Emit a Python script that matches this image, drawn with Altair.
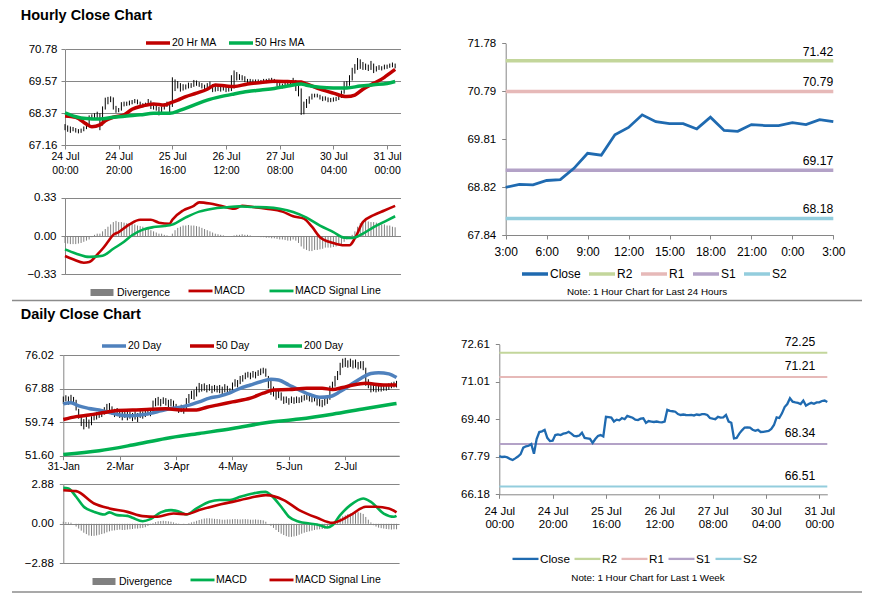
import json
import altair as alt
import pandas as pd

FONT = "Liberation Sans"
AXC = "#868686"
RED = "#c00000"
GREEN = "#00b050"
BLUE = "#4f81bd"
CLOSE = "#1f6ab0"
DIVC = "#808080"
PIV_COLORS = ["#c3d69b", "#e6b9b8", "#b3a2c7", "#93cddd"]
W, H = 857, 585

# ---------------- text ----------------
title_hourly = "Hourly Close Chart"
title_daily = "Daily Close Chart"
note_24h = "Note: 1 Hour Chart for Last 24 Hours"
note_week = "Note: 1 Hour Chart for Last 1 Week"

# ---------------- hourly data (last week, one value per hour) ----------------
hour_close = [67.82, 67.78, 67.79, 67.76, 67.70, 67.65, 67.72, 67.80, 67.90, 68.18,
              68.24, 68.26, 68.33, 67.92, 68.55, 68.85, 68.88, 68.94, 68.60, 68.46,
              68.48, 68.72, 68.75, 68.72, 68.78, 68.80, 68.86, 68.78, 68.68, 68.67,
              68.70, 68.82, 68.60, 68.58, 68.56, 68.38, 68.55, 68.68, 68.72, 68.66,
              69.50, 69.49, 69.47, 69.30, 69.38, 69.35, 69.45, 69.40, 69.54, 69.50,
              69.46, 69.38, 69.36, 69.42, 69.44, 69.24, 69.32, 69.30, 69.28, 69.30,
              69.27, 69.26, 69.30, 69.80, 69.76, 69.74, 69.72, 69.62, 69.58, 69.60,
              69.58, 69.57, 69.58, 69.56, 69.60, 69.58, 69.62, 69.62, 69.58, 69.45,
              69.42, 69.40, 69.50, 69.47, 69.48, 69.58, 69.30, 69.25, 68.58, 68.60,
              68.78, 68.92, 69.04, 69.05, 69.04, 68.95, 68.90, 68.94, 68.85, 68.86,
              68.88, 68.90, 68.98, 69.15, 69.48, 69.45, 69.65, 69.92, 70.05, 70.30,
              70.15, 70.12, 70.10, 70.05, 70.20, 69.98, 70.05, 70.10, 70.06, 70.12,
              70.12, 70.18, 70.20, 70.14]
hour_low = [67.72, 67.66, 67.62, 67.68, 67.63, 67.60, 67.62, 67.68, 67.76, 67.86,
            68.10, 68.12, 68.18, 67.72, 67.90, 68.50, 68.70, 68.78, 68.50, 68.38,
            68.40, 68.46, 68.62, 68.64, 68.66, 68.70, 68.74, 68.70, 68.60, 68.58,
            68.60, 68.66, 68.52, 68.50, 68.46, 68.28, 68.36, 68.50, 68.60, 68.30,
            68.60, 69.20, 69.30, 69.18, 69.22, 69.26, 69.30, 69.32, 69.36, 69.40,
            69.36, 69.30, 69.28, 69.30, 69.34, 69.16, 69.18, 69.20, 69.18, 69.22,
            69.16, 69.18, 69.20, 69.30, 69.60, 69.62, 69.60, 69.54, 69.50, 69.52,
            69.50, 69.50, 69.50, 69.48, 69.50, 69.50, 69.52, 69.52, 69.50, 69.38,
            69.34, 69.30, 69.36, 69.38, 69.36, 69.40, 69.20, 69.00, 68.30, 68.32,
            68.56, 68.72, 68.88, 68.96, 68.96, 68.88, 68.82, 68.84, 68.78, 68.78,
            68.80, 68.82, 68.86, 68.94, 69.10, 69.34, 69.40, 69.60, 69.86, 70.00,
            70.04, 70.00, 70.00, 69.96, 70.00, 69.88, 69.94, 70.00, 69.98, 70.02,
            70.04, 70.08, 70.10, 70.06]
hour_high = [67.95, 67.90, 67.86, 67.84, 67.80, 67.76, 67.78, 67.86, 68.02, 68.28,
             68.32, 68.36, 68.42, 68.36, 68.62, 68.95, 68.98, 69.00, 68.96, 68.64,
             68.56, 68.78, 68.80, 68.80, 68.84, 68.86, 68.90, 68.88, 68.80, 68.74,
             68.76, 68.90, 68.84, 68.66, 68.64, 68.60, 68.62, 68.74, 68.80, 68.76,
             69.72, 69.64, 69.58, 69.50, 69.46, 69.45, 69.52, 69.50, 69.62, 69.60,
             69.54, 69.50, 69.44, 69.50, 69.56, 69.46, 69.38, 69.38, 69.36, 69.38,
             69.36, 69.34, 69.80, 69.98, 69.92, 69.84, 69.80, 69.76, 69.66, 69.66,
             69.64, 69.64, 69.64, 69.62, 69.66, 69.66, 69.68, 69.70, 69.66, 69.62,
             69.50, 69.48, 69.58, 69.56, 69.60, 69.70, 69.62, 69.40, 69.30, 68.80,
             68.90, 69.00, 69.10, 69.10, 69.10, 69.06, 69.00, 69.00, 68.96, 68.94,
             68.96, 68.98, 69.06, 69.22, 69.56, 69.58, 69.80, 70.08, 70.22, 70.45,
             70.40, 70.30, 70.24, 70.20, 70.34, 70.24, 70.14, 70.18, 70.14, 70.20,
             70.20, 70.24, 70.28, 70.24]
hour_ticks = [0, 20, 40, 60, 80, 100, 120]
hour_tick_labels = [["24 Jul", "00:00"], ["24 Jul", "20:00"], ["25 Jul", "16:00"],
                    ["26 Jul", "12:00"], ["27 Jul", "08:00"], ["30 Jul", "04:00"],
                    ["31 Jul", "00:00"]]
hour_yticks = [67.16, 68.37, 69.57, 70.78]

ma20_x = [0, 4, 8, 10, 13, 15, 18, 22, 25, 29, 33, 37, 39, 42, 45, 49, 53, 56, 60, 63,
          68, 73, 78, 83, 88, 90, 95, 100, 105, 108, 111, 115, 119, 121, 123]
ma20_v = [68.26, 68.21, 67.95, 67.85, 67.92, 68.08, 68.21, 68.30, 68.51, 68.64, 68.71,
          68.67, 68.74, 68.86, 68.99, 69.12, 69.27, 69.43, 69.39, 69.37, 69.47, 69.52,
          69.57, 69.56, 69.54, 69.47, 69.27, 69.12, 68.99, 69.05, 69.27, 69.49, 69.72,
          69.87, 70.02]
ma50_x = [0, 4, 8, 13, 18, 23, 28, 33, 39, 43, 48, 53, 58, 63, 68, 73, 78, 83, 88, 90,
          95, 100, 105, 110, 115, 120, 123]
ma50_v = [68.38, 68.23, 68.16, 68.14, 68.21, 68.26, 68.30, 68.36, 68.36, 68.48, 68.67,
          68.86, 68.99, 69.09, 69.18, 69.24, 69.30, 69.39, 69.47, 69.42, 69.34, 69.32,
          69.32, 69.39, 69.44, 69.49, 69.56]

hmacd_x = [0, 3, 7, 9, 12, 14, 16, 18, 20, 24, 28, 32, 35, 39, 40, 44, 48, 50, 54, 58,
           63, 66, 70, 75, 81, 85, 89, 92, 95, 100, 104, 106, 108, 111, 115, 119, 123]
hmacd_v = [-0.172, -0.20, -0.23, -0.224, -0.16, -0.11, -0.05, 0.01, 0.034, 0.10, 0.14,
           0.14, 0.115, 0.106, 0.14, 0.22, 0.26, 0.29, 0.28, 0.26, 0.235, 0.26, 0.25,
           0.235, 0.21, 0.17, 0.15, 0.08, -0.01, -0.06, -0.08, -0.08, -0.02, 0.12, 0.18,
           0.22, 0.26]
hsig_x = [0, 4, 9, 14, 18, 22, 25, 29, 33, 37, 40, 45, 50, 55, 60, 65, 70, 75, 80, 85,
          90, 95, 100, 104, 107, 111, 115, 120, 123]
hsig_v = [-0.115, -0.15, -0.18, -0.17, -0.11, -0.05, 0.006, 0.055, 0.077, 0.086, 0.098,
          0.16, 0.21, 0.235, 0.247, 0.255, 0.25, 0.247, 0.235, 0.207, 0.158, 0.09, 0.034,
          -0.014, -0.017, 0.02, 0.077, 0.135, 0.17]
hdiv = [-0.06, -0.065, -0.07, -0.07, -0.07, -0.065, -0.06, -0.05, -0.04, -0.03,
        -0.01, 0.01, 0.02, 0.02, 0.04, 0.06, 0.08, 0.10, 0.12, 0.13,
        0.12, 0.12, 0.115, 0.11, 0.11, 0.105, 0.10, 0.09, 0.085, 0.08,
        0.07, 0.06, 0.05, 0.04, 0.03, 0.02, 0.02, 0.01, 0.005, 0.0,
        0.02, 0.05, 0.07, 0.08, 0.09, 0.09, 0.095, 0.09, 0.09, 0.085,
        0.08, 0.07, 0.06, 0.05, 0.04, 0.03, 0.02, 0.015, 0.01, 0.005,
        0.0, 0.0, -0.005, 0.005, 0.01, 0.01, 0.015, 0.01, 0.01, 0.005,
        0.0, 0.0, -0.005, -0.01, -0.01, -0.015, -0.015, -0.02, -0.02, -0.025,
        -0.03, -0.03, -0.035, -0.04, -0.04, -0.03, -0.04, -0.06, -0.09, -0.11,
        -0.12, -0.13, -0.13, -0.12, -0.12, -0.115, -0.11, -0.10, -0.10, -0.10,
        -0.095, -0.09, -0.08, -0.07, -0.05, -0.03, -0.01, 0.01, 0.04, 0.08,
        0.11, 0.13, 0.13, 0.125, 0.12, 0.12, 0.115, 0.11, 0.10, 0.10,
        0.09, 0.09, 0.08, 0.075]
hmacd_yticks = [-0.33, 0.0, 0.33]

# ---------------- last 24 hours ----------------
day_close = [68.82, 68.88, 68.87, 68.96, 68.98, 69.21, 69.52, 69.48, 69.90, 70.05,
             70.31, 70.17, 70.13, 70.13, 70.02, 70.26, 69.99, 69.97, 70.11, 70.09,
             70.09, 70.15, 70.11, 70.21, 70.17]
day_ticks = [0, 3, 6, 9, 12, 15, 18, 21, 24]
day_tick_labels = ["3:00", "6:00", "9:00", "12:00", "15:00", "18:00", "21:00", "0:00", "3:00"]
day_yticks = [67.84, 68.82, 69.81, 70.79, 71.78]
pivot_names = ["R2", "R1", "S1", "S2"]
pivot_24h = [71.42, 70.79, 69.17, 68.18]
pivot_week = [72.25, 71.21, 68.34, 66.51]
week_yticks = [66.18, 67.79, 69.40, 71.01, 72.61]

# ---------------- daily data ----------------
d_low = [64.2, 64.8, 64.0, 64.3, 64.0, 62.6, 60.6, 58.8, 58.0, 58.6,
         58.2, 59.0, 60.2, 60.4, 60.8, 61.0, 61.6, 62.4, 62.2, 61.6,
         61.0, 61.2, 60.8, 60.2, 60.8, 60.2, 60.6, 60.0, 60.4, 59.8,
         60.8, 60.6, 61.0, 61.4, 61.2, 62.4, 63.6, 63.8, 63.6, 64.2,
         63.8, 63.4, 63.6, 63.0, 62.6, 62.0, 62.2, 61.8, 62.6, 64.4,
         65.4, 65.2, 66.0, 67.0, 67.2, 67.4, 67.0, 67.4, 66.8, 67.2,
         67.0, 66.8, 66.6, 67.0, 67.0, 66.6, 67.2, 68.4, 68.2, 69.0,
         69.6, 70.2, 70.6, 70.2, 70.6, 70.4, 71.0, 71.2, 71.6, 70.8,
         68.0, 66.4, 66.0, 65.2, 65.6, 65.0, 64.2, 64.4, 64.0, 64.4,
         64.2, 64.4, 64.4, 64.6, 65.0, 65.2, 64.8, 64.6, 64.8, 63.8,
         63.6, 63.4, 63.8, 64.2, 65.2, 67.4, 68.4, 70.0, 71.2, 73.0,
         73.2, 73.0, 73.2, 72.8, 73.0, 72.6, 72.8, 72.4, 68.6, 68.0,
         67.0, 67.2, 67.0, 67.2, 67.2, 67.4, 67.4, 67.6, 68.0, 68.2,
         68.2]
d_high = [66.0, 66.3, 66.0, 66.4, 65.9, 65.2, 63.0, 61.0, 60.5, 61.0,
          60.4, 61.2, 62.0, 62.2, 62.4, 62.6, 63.4, 64.2, 64.4, 63.6,
          63.0, 63.2, 62.8, 62.4, 62.8, 62.4, 62.3, 62.0, 62.4, 62.0,
          62.6, 62.4, 62.6, 63.0, 63.0, 65.0, 65.6, 65.9, 65.4, 65.8,
          65.6, 65.2, 65.4, 65.0, 64.2, 63.6, 64.0, 63.6, 65.6, 66.6,
          67.4, 67.6, 68.4, 69.3, 69.0, 69.2, 68.8, 69.0, 68.6, 68.8,
          68.6, 68.8, 68.4, 69.0, 68.6, 68.0, 69.4, 70.2, 70.0, 71.0,
          71.2, 71.8, 72.0, 71.8, 72.2, 72.0, 72.4, 72.8, 73.0, 72.8,
          71.0, 70.2, 68.4, 67.6, 67.8, 67.0, 66.0, 66.0, 65.6, 66.0,
          65.8, 66.0, 65.8, 66.2, 66.4, 66.8, 66.4, 66.0, 66.2, 65.6,
          65.6, 65.2, 66.0, 65.8, 68.6, 69.6, 71.0, 72.2, 74.2, 75.2,
          75.4, 74.8, 75.2, 74.8, 75.0, 74.4, 74.6, 74.6, 73.0, 70.2,
          69.0, 69.2, 68.8, 69.0, 68.6, 69.0, 68.8, 69.2, 69.4, 69.6,
          69.8]
daily_ticks = [0, 22, 44, 66, 88, 110]
daily_tick_labels = ["31-Jan", "2-Mar", "3-Apr", "4-May", "5-Jun", "2-Jul"]
daily_yticks = [51.60, 59.74, 67.88, 76.02]

d20_x = [0, 3, 6, 10, 14, 18, 22, 26, 30, 34, 38, 42, 45, 49, 53, 57, 61, 65, 69, 73,
         77, 81, 84, 88, 92, 96, 100, 104, 108, 112, 116, 120, 123, 127, 130]
d20_v = [64.2, 64.5, 63.7, 63.1, 62.7, 62.1, 61.5, 61.3, 61.5, 61.9, 62.5, 63.1, 63.3,
         63.9, 64.7, 65.6, 66.1, 66.9, 68.0, 68.8, 69.6, 70.2, 70.0, 68.8, 67.6, 66.5,
         65.8, 66.0, 67.2, 68.8, 70.4, 71.6, 71.8, 71.5, 70.6]
d50_x = [0, 5, 10, 16, 21, 27, 34, 40, 47, 52, 56, 60, 66, 73, 78, 82, 88, 95, 101, 105,
         109, 113, 118, 125, 130]
d50_v = [60.4, 61.1, 61.5, 62.1, 62.6, 62.7, 62.9, 63.0, 62.7, 62.7, 63.4, 63.9, 64.7,
         65.6, 66.8, 67.6, 67.7, 68.0, 68.0, 67.7, 68.2, 68.8, 69.2, 68.8, 68.8]
d200_x = [0, 14, 27, 40, 53, 66, 79, 92, 105, 118, 130]
d200_v = [51.9, 52.8, 54.2, 55.8, 57.0, 58.2, 59.6, 60.5, 61.7, 63.1, 64.3]

dmacd_x = [0, 2, 5, 8, 12, 16, 18, 21, 25, 27, 31, 34, 38, 42, 46, 48, 52, 57, 61, 65,
           69, 74, 79, 81, 85, 88, 92, 96, 100, 103, 105, 108, 112, 117, 120, 125, 129, 130]
dmacd_v = [2.62, 2.58, 1.97, 1.24, 0.87, 0.68, 0.83, 0.63, 0.58, 0.44, 0.19, 0.34, 0.83,
           1.0, 0.83, 0.68, 1.12, 1.6, 1.73, 1.73, 1.97, 2.21, 2.33, 2.09, 1.24, 0.51,
           0.15, 0.02, -0.1, -0.27, -0.1, 0.63, 1.36, 1.85, 1.6, 0.75, 0.51, 0.58]
dsig_x = [0, 5, 12, 18, 25, 31, 36, 43, 48, 53, 60, 66, 73, 79, 86, 92, 99, 105, 112,
          118, 122, 127, 130]
dsig_v = [2.45, 2.38, 1.48, 1.12, 0.87, 0.56, 0.51, 0.75, 0.70, 1.0, 1.36, 1.6, 1.9,
          2.09, 1.73, 1.0, 0.44, 0.07, 0.63, 1.24, 1.24, 1.12, 0.83]
ddiv = [0.15, 0.12, 0.10, 0.08, 0.0, -0.2, -0.35, -0.5, -0.65, -0.75,
        -0.85, -0.88, -0.88, -0.85, -0.8, -0.75, -0.7, -0.62, -0.55, -0.5,
        -0.48, -0.45, -0.42, -0.45, -0.45, -0.42, -0.4, -0.38, -0.35, -0.35,
        -0.32, -0.3, -0.25, -0.15, -0.05, 0.05, 0.12, 0.18, 0.2, 0.22,
        0.2, 0.18, 0.15, 0.1, 0.05, 0.02, 0.0, -0.03, 0.0, 0.05,
        0.1, 0.15, 0.22, 0.28, 0.33, 0.38, 0.4, 0.4, 0.38, 0.36,
        0.35, 0.33, 0.3, 0.3, 0.32, 0.32, 0.33, 0.35, 0.33, 0.32,
        0.33, 0.34, 0.33, 0.3, 0.3, 0.32, 0.3, 0.28, 0.25, 0.15,
        0.0, -0.15, -0.3, -0.45, -0.6, -0.72, -0.82, -0.9, -0.95, -0.95,
        -0.92, -0.88, -0.8, -0.72, -0.65, -0.6, -0.55, -0.5, -0.45, -0.42,
        -0.4, -0.38, -0.36, -0.3, -0.15, 0.0, 0.15, 0.3, 0.45, 0.55,
        0.62, 0.7, 0.75, 0.8, 0.82, 0.85, 0.8, 0.72, 0.5, 0.3,
        0.1, -0.1, -0.2, -0.28, -0.32, -0.35, -0.38, -0.4, -0.42, -0.4,
        -0.4]
dmacd_yticks = [-2.88, 0.0, 2.88]


# ---------------- helpers ----------------
def scale(dom, rng):
    return alt.Scale(domain=dom, range=rng, nice=False, zero=False)


def y_axis(values, offset, grid, pad):
    return alt.Axis(orient="left", values=values, format=".2f", offset=offset, grid=grid,
                    gridColor=AXC, gridWidth=1, domainColor=AXC, domainWidth=1,
                    tickColor=AXC, tickSize=4, tickWidth=1, labelFont=FONT,
                    labelFontSize=11.5, labelColor="black", labelPadding=pad,
                    labelOverlap=False, title=None)


def x_axis(ticks, labels, offset, pad, size, lh=14):
    expr = f"{json.dumps(labels)}[indexof({json.dumps(ticks)}, datum.value)]"
    return alt.Axis(orient="bottom", values=ticks, labelExpr=expr, offset=offset, grid=False,
                    domainColor=AXC, domainWidth=1, tickColor=AXC, tickSize=4, tickWidth=1,
                    labelFont=FONT, labelFontSize=size, labelColor="black", labelPadding=pad,
                    labelLineHeight=lh, labelFlush=False, labelOverlap=False, title=None)


def legend(sym_x, center_y, sw=3.5, length=24, gap=10, size=10.5):
    # sym_x / center_y: page position of the first symbol and the row centre
    return alt.Legend(orient="none", legendX=sym_x - 11, legendY=center_y - 8 - length / 2,
                      direction="horizontal", title=None,
                      symbolType="stroke", symbolSize=length * length, symbolStrokeWidth=sw,
                      labelFont=FONT, labelFontSize=size, labelColor="black", labelOffset=0,
                      columnPadding=gap - 6, padding=0)


def series_df(items):
    rows = []
    for name, xs, vs in items:
        rows += [{"x": a, "v": b, "s": name} for a, b in zip(xs, vs)]
    return pd.DataFrame(rows)


def X(field, sc, axis=None):
    return alt.X(f"{field}:Q", scale=sc, axis=axis)


def Y(field, sc, axis=None):
    return alt.Y(f"{field}:Q", scale=sc, axis=axis)


# every layer below is a direct child of one top-level layer; layers of the same
# panel get identical scale definitions, so they line up exactly.
def price_panel(lo, hi, sx, sy, xax, yax, ma_items, ma_colors, leg):
    bars = pd.DataFrame({"i": list(range(len(lo))), "lo": lo, "hi": hi})
    b = alt.Chart(bars).mark_rule(color="black", strokeWidth=1).encode(
        x=X("i", sx, xax), y=Y("lo", sy, yax), y2="hi")
    names = [m[0] for m in ma_items]
    ln = alt.Chart(series_df(ma_items)).mark_line(strokeWidth=3.5, interpolate="monotone").encode(
        x=X("x", sx), y=Y("v", sy),
        color=alt.Color("s:N", scale=alt.Scale(domain=names, range=ma_colors), legend=leg))
    return [b, ln]


def macd_panel(div, sx, sy, yax, items, colors, leg_div, leg_lines):
    dv = pd.DataFrame({"i": list(range(len(div))), "v": div, "s": "Divergence"})
    d = alt.Chart(dv).mark_rule(strokeWidth=1).encode(
        x=X("i", sx), y=Y("v", sy, yax), y2=alt.datum(0),
        color=alt.Color("s:N", scale=alt.Scale(domain=["Divergence"], range=[DIVC]),
                        legend=leg_div))
    names = [m[0] for m in items]
    ln = alt.Chart(series_df(items)).mark_line(strokeWidth=2.6, interpolate="monotone").encode(
        x=X("x", sx), y=Y("v", sy),
        color=alt.Color("s:N", scale=alt.Scale(domain=names, range=colors), legend=leg_lines))
    return [d, ln]


def pivot_panel(close, sx, sy, xax, yax, levels, lw_close, lw_piv, leg, dx, dy):
    cd = pd.DataFrame({"h": list(range(len(close))), "v": close, "s": "Close"})
    pv = pd.DataFrame({"s": pivot_names, "level": levels,
                       "x0": 0, "x1": len(close) - 1})
    cs = lambda: alt.Scale(domain=["Close"] + pivot_names, range=[CLOSE] + PIV_COLORS)
    rules = alt.Chart(pv).mark_rule(strokeWidth=lw_piv).encode(
        x=X("x0", sx, xax), x2="x1", y=Y("level", sy, yax),
        color=alt.Color("s:N", scale=cs(), legend=None))
    line = alt.Chart(cd).mark_line(strokeWidth=lw_close).encode(
        x=X("h", sx), y=Y("v", sy),
        color=alt.Color("s:N", scale=cs(), legend=leg))
    txt = alt.Chart(pv).mark_text(align="right", baseline="alphabetic", dx=dx, dy=dy,
                                  font=FONT, fontSize=12.2, color="black").encode(
        x=X("x1", sx), y=Y("level", sy), text=alt.Text("level:Q", format=".2f"))
    return [rules, line, txt]


def text_layer(txt, x, y, size, weight="normal", align="left", baseline="alphabetic"):
    return alt.Chart(pd.DataFrame({"t": [txt]})).mark_text(
        font=FONT, fontSize=size, fontWeight=weight, align=align, baseline=baseline,
        color="black").encode(x=alt.value(x), y=alt.value(y), text="t:N")


def sep_layer(y):
    return alt.Chart(pd.DataFrame({"k": [0]})).mark_rule(color="#8c8c8c", strokeWidth=1.5).encode(
        x=alt.value(4), x2=alt.value(854), y=alt.value(y))


# ---------------- panels ----------------
sxA = scale([0, 125], [57, 392.5])
panel_a = price_panel(hour_low, hour_high, sxA, scale([67.16, 70.78], [137, 41.3]),
                      x_axis(hour_ticks, hour_tick_labels, 137 - H, 2, 10.5),
                      y_axis(hour_yticks, -57, True, 4),
                      [("20 Hr MA", ma20_x, ma20_v), ("50 Hrs MA", ma50_x, ma50_v)],
                      [RED, GREEN], legend(147, 41, gap=11))
panel_b = macd_panel(hdiv, sxA, scale([-0.33, 0.33], [266.3, 189.7]),
                     y_axis(hmacd_yticks, -57, True, 5),
                     [("MACD", hmacd_x, hmacd_v), ("MACD Signal Line", hsig_x, hsig_v)],
                     [RED, GREEN], legend(90, 289, sw=7, length=23),
                     legend(190, 289, sw=2.8, length=24, gap=24))
panel_c = pivot_panel(day_close, scale([0, 24], [497.7, 825.3]),
                      scale([67.84, 71.78], [227, 35.3]),
                      x_axis(day_ticks, day_tick_labels, 227 - H, 7, 12),
                      y_axis(day_yticks, -497.7, False, 6),
                      pivot_24h, 2.8, 3.5,
                      legend(523, 272, sw=3.5, length=26, gap=7, size=12), 0, -5)

sxD = scale([0, 131], [55.3, 391.1])
panel_d = price_panel(d_low, d_high, sxD, scale([51.60, 76.02], [447.7, 347.3]),
                      x_axis(daily_ticks, daily_tick_labels, 447.7 - H, 2, 10.5),
                      y_axis(daily_yticks, -55.3, True, 6),
                      [("20 Day", d20_x, d20_v), ("50 Day", d50_x, d50_v),
                       ("200 Day", d200_x, d200_v)],
                      [BLUE, RED, GREEN], legend(103, 344, gap=27))
panel_e = macd_panel(ddiv, sxD, scale([-2.88, 2.88], [555.3, 476.3]),
                     y_axis(dmacd_yticks, -55.3, True, 6),
                     [("MACD", dmacd_x, dmacd_v), ("MACD Signal Line", dsig_x, dsig_v)],
                     [GREEN, RED], legend(92, 578, sw=7, length=23),
                     legend(192, 578, sw=2.8, length=24, gap=22))
panel_f = pivot_panel(hour_close, scale([0, 123], [491.3, 819.3]),
                      scale([66.18, 72.61], [486.3, 336.3]),
                      x_axis(hour_ticks, hour_tick_labels, 486.3 - H, 7, 11.5, 13),
                      y_axis(week_yticks, -491.3, False, 6),
                      pivot_week, 2.3, 2.0,
                      legend(514, 557, sw=2.3, length=26, gap=5, size=11.7), -12, -6.5)

layers = (panel_a + panel_b + panel_c + panel_d + panel_e + panel_f + [
    text_layer(title_hourly, 12.7, 0.5, 14.5, "bold", baseline="top"),
    text_layer(title_daily, 12.7, 310.5, 14.5, "bold"),
    text_layer(note_24h, 639, 284, 9.8, align="center", baseline="middle"),
    text_layer(note_week, 640, 570, 9.8, align="center", baseline="middle"),
    sep_layer(292.5), sep_layer(584),
])

chart = alt.layer(*layers).resolve_scale(
    x="independent", y="independent", color="independent"
).properties(
    width=W, height=H, autosize=alt.AutoSizeParams(type="none"), padding=0
).configure(font=FONT, view=alt.ViewConfig(stroke=None))

chart.save("out.html", embed_options={"renderer": "svg", "actions": False})
